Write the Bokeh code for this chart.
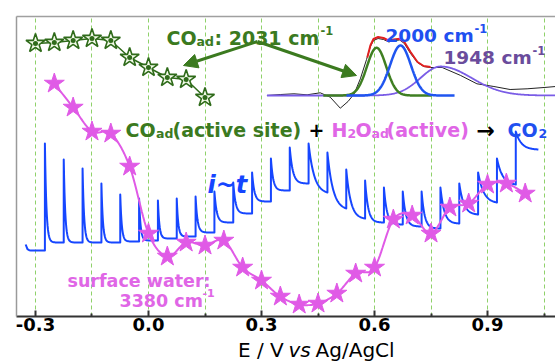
import numpy as np
from bokeh.plotting import figure
from bokeh.layouts import column
from bokeh.models import (Range1d, FixedTicker, LinearAxis, Label, Arrow, NormalHead)
from bokeh.core.properties import value
from bokeh.embed import file_html
from bokeh.resources import INLINE

# ---------------- data ----------------
co_E = [-0.30, -0.25, -0.20, -0.15, -0.10, -0.05, 0.00, 0.05, 0.10, 0.15]
co_I = [273, 274, 276, 278, 276, 259, 249, 239, 237, 219]

w_E = [-0.25, -0.20, -0.15, -0.10, -0.05, 0.00, 0.05, 0.10, 0.15, 0.20, 0.25, 0.30, 0.35,
       0.40, 0.45, 0.50, 0.55, 0.60, 0.65, 0.70, 0.75, 0.80, 0.85, 0.90, 0.95, 1.00]
w_I = [233, 209, 185, 183, 150, 83, 60, 74, 71, 76, 49, 36, 20,
       12, 13, 23, 43, 49, 97, 101, 83, 109, 113, 132, 133, 123]

it_start_E = -0.326
it_start_I = [72, 66]
it_E = [-0.275, -0.225, -0.175, -0.125, -0.075, -0.025, 0.025, 0.075, 0.125, 0.175, 0.225,
        0.275, 0.325, 0.375, 0.425, 0.475, 0.525, 0.575, 0.625, 0.675, 0.725, 0.775,
        0.825, 0.875, 0.925, 0.975]
it_stop_E = 1.035
it_peak = [173, 157, 148, 133, 122, 118, 116, 118, 120, 125, 134, 144, 158, 169, 173,
           164, 147, 136, 129, 125, 125, 129, 133, 144, 158, 185]
it_end = [74, 74, 74, 74, 75, 76, 78, 80, 84, 94, 103, 115, 126, 133, 124,
          108, 98, 94, 92, 90, 88, 93, 102, 114, 132, 167]
it_tau = [0.004, 0.004, 0.004, 0.004, 0.004, 0.004, 0.004, 0.004, 0.005, 0.006, 0.006,
          0.006, 0.006, 0.008, 0.015, 0.015, 0.012, 0.008, 0.008, 0.008, 0.008, 0.010,
          0.012, 0.015, 0.015, 0.015]

black_wn = [2173, 2155, 2138, 2121, 2104, 2091, 2078, 2068, 2060, 2052, 2044, 2039, 2035,
            2029, 2022, 2015, 2009, 2001, 1995, 1987, 1978, 1970, 1961, 1946, 1922, 1901,
            1879, 1858, 1836, 1814, 1799]
black_A = [0.00, 0.01, 0.017, 0.007, 0.027, -0.017, -0.127, -0.06, 0.017, 0.167, 0.36,
           0.49, 0.55, 0.57, 0.56, 0.535, 0.55, 0.555, 0.52, 0.42, 0.33, 0.29, 0.28, 0.28,
           0.20, 0.117, 0.09, 0.06, 0.067, 0.08, 0.09]
red_wn = [2043, 2039, 2035, 2029, 2022, 2015, 2009, 2001, 1995, 1987, 1978, 1970, 1961]
red_A = [0.38, 0.50, 0.565, 0.585, 0.575, 0.548, 0.56, 0.568, 0.535, 0.435, 0.335, 0.295, 0.285]
comp_center = [2031, 2000, 1948]
comp_height = [0.477, 0.50, 0.29]
comp_sigma_hi = [12.5, 13.5, 26]
comp_sigma_lo = [12.5, 13.5, 40]

x_ticks = [-0.3, 0.0, 0.3, 0.6, 0.9]
x_tick_labels = ["-0.3", "0.0", "0.3", "0.6", "0.9"]
x_minor = [-0.15, 0.15, 0.45, 0.75, 1.05]

# ---------------- layout helpers ----------------
W, H_MAIN, H_LAB = 555, 338, 25
X0, PXV, FL = -0.3504, 376.7, 16.0
def X(px):
    return X0 + (px - FL) / PXV
def Y(py):
    return 316.0 - py

p = figure(width=W, height=H_MAIN, title=None,
           x_range=Range1d(X0, X(W)), y_range=Range1d(0, 300),
           output_backend="svg", toolbar_location=None,
           min_border_left=16, min_border_right=0, min_border_top=16,
           min_border_bottom=H_MAIN - 316)
p.outline_line_color = None
p.background_fill_color = "white"
p.border_fill_color = "white"
wn_of = lambda px: 2000 + (400 - px) / 0.772
p.extra_x_ranges = {"wn": Range1d(wn_of(FL), wn_of(W))}
p.extra_y_ranges = {"abs": Range1d(-2.21, 0.79)}

xa = p.xaxis[0]
xa.ticker = FixedTicker(ticks=x_ticks, minor_ticks=x_minor)
xa.major_label_overrides = {t: s for t, s in zip(x_ticks, x_tick_labels)}
xa.major_label_text_font = "DejaVu Sans"
xa.major_label_text_font_style = "bold"
xa.major_label_text_font_size = "18px"
xa.major_label_text_color = "black"
xa.major_label_standoff = 1
xa.major_tick_in = 6
xa.major_tick_out = 0
xa.minor_tick_in = 3
xa.minor_tick_out = 0
xa.axis_line_width = 2
xa.axis_line_color = "#333333"
xa.major_tick_line_color = "#333333"
xa.major_tick_line_width = 2
xa.minor_tick_line_color = "#333333"
xa.minor_tick_line_width = 2

ya = p.yaxis[0]
ya.ticker = FixedTicker(ticks=[])
ya.axis_line_color = "#9a9a9a"
ya.axis_line_width = 1.5
ya.major_tick_line_color = None
ya.minor_tick_line_color = None

top_axis = LinearAxis(ticker=FixedTicker(ticks=[]), axis_line_color="#a0a0a0",
                      axis_line_width=1.5, major_tick_line_color=None, minor_tick_line_color=None)
p.add_layout(top_axis, "above")

p.ygrid.grid_line_color = None
p.xgrid.ticker = FixedTicker(ticks=sorted(x_ticks + x_minor))
p.xgrid.grid_line_color = "#8fd16a"
p.xgrid.grid_line_dash = "4 3"
p.xgrid.grid_line_width = 1

# ---------------- i~t staircase ----------------
ix = [it_start_E]
iy = [it_start_I[0]]
t0 = np.linspace(0, it_E[0] - it_start_E, 12)
dec0 = it_start_I[1] + (it_start_I[0] - it_start_I[1]) * np.exp(-t0 / 0.003)
ix += list(it_start_E + t0)
iy += list(dec0)
prev = it_start_I[1]
for k, e in enumerate(it_E):
    nxt = it_E[k + 1] if k + 1 < len(it_E) else it_stop_E
    T = nxt - e
    pk, en, tau = it_peak[k], it_end[k], it_tau[k]
    t = np.linspace(0, T, 50)
    y = en + (pk - en) * (np.exp(-t / tau) - np.exp(-T / tau)) / (1 - np.exp(-T / tau))
    ix += [e] + list(e + t)
    iy += [prev] + list(y)
    prev = en
p.line(ix, iy, line_color="#1646ff", line_width=2, line_join="round")

# ---------------- surface water ----------------
def catmull(xs, ys, n=14):
    xs = np.asarray(xs, float); ys = np.asarray(ys, float)
    ox, oy = [], []
    N = len(xs)
    for i in range(N - 1):
        i0, i3 = max(i - 1, 0), min(i + 2, N - 1)
        p0, p1, p2, p3 = [np.array([xs[j], ys[j]]) for j in (i0, i, i + 1, i3)]
        for t in np.linspace(0, 1, n, endpoint=False):
            t2, t3 = t * t, t * t * t
            pt = 0.5 * ((2 * p1) + (-p0 + p2) * t + (2 * p0 - 5 * p1 + 4 * p2 - p3) * t2
                        + (-p0 + 3 * p1 - 3 * p2 + p3) * t3)
            ox.append(pt[0]); oy.append(pt[1])
    ox.append(xs[-1]); oy.append(ys[-1])
    return ox, oy

wx, wy = catmull(w_E, w_I)
p.line(wx, wy, line_color="#e05ae6", line_width=2)
p.scatter(w_E, w_I, marker="star", size=21, fill_color="#e05ae6", line_color="#e05ae6")

# ---------------- CO_ad stars ----------------
p.line(co_E, co_I, line_color="#2f6b1a", line_width=1.5)
p.scatter(co_E, co_I, marker="star_dot", size=20, fill_color="#f3fbe9",
          line_color="#2f6b1a", line_width=1.6)

# ---------------- inset IR spectrum ----------------
wn = np.linspace(2173, wn_of(W), 500)
def comp(i, grid):
    g = np.asarray(grid, float)
    s = np.where(g >= comp_center[i], comp_sigma_hi[i], comp_sigma_lo[i])
    return comp_height[i] * np.exp(-0.5 * ((g - comp_center[i]) / s) ** 2)

p.line(black_wn, black_A, x_range_name="wn", y_range_name="abs",
       line_color="#222222", line_width=1)
p.line(wn, comp(2, wn), x_range_name="wn", y_range_name="abs",
       line_color="#7a5ce6", line_width=1.8)
g_wn = np.linspace(2100, 1960, 200)
p.line(g_wn, comp(0, g_wn), x_range_name="wn", y_range_name="abs",
       line_color="#3f7f22", line_width=2.5)
b_wn = np.linspace(2070, 1930, 200)
p.line(b_wn, comp(1, b_wn), x_range_name="wn", y_range_name="abs",
       line_color="#1f55f0", line_width=2.5)
p.line(red_wn, red_A, x_range_name="wn", y_range_name="abs",
       line_color="#e02020", line_width=2)

# ---------------- arrows ----------------
for (xe, ye) in [(183, 65), (356, 75)]:
    p.add_layout(Arrow(end=NormalHead(size=14, fill_color="#3b7a1f", line_color="#3b7a1f"),
                       x_start=X(257), y_start=Y(41), x_end=X(xe), y_end=Y(ye),
                       line_color="#3b7a1f", line_width=3))

# ---------------- texts ----------------
def lab(px, py, text, size, color, style="bold", font="DejaVu Sans"):
    p.add_layout(Label(x=X(px), y=Y(py), text=text, text_font=font,
                       text_font_size=f"{size}px", text_font_style=style,
                       text_color=color, text_baseline="alphabetic", text_align="left"))

GREEN = "#3b7a1f"
VIOL = "#e066e6"
BLUE = "#1f50f0"
PURP = "#6a4c9c"

lab(166, 37.5, "CO", 19, GREEN)
lab(196, 41, "ad", 12.5, GREEN)
lab(214, 37.5, ": 2031 cm", 19, GREEN)
lab(320, 30, "-1", 11.5, GREEN)

lab(385, 35, "2000 cm", 18.5, BLUE)
lab(474, 28, "-1", 11.5, BLUE)
lab(443, 57, "1948 cm", 18.5, PURP)
lab(532, 50, "-1", 11.5, PURP)

lab(125, 129.5, "CO", 19, GREEN)
lab(155.5, 133, "ad", 12.5, GREEN)
lab(172, 129.5, "(active site)", 19, GREEN)
lab(308, 129.5, "+", 19, "black")
lab(331, 129.5, "H", 19, VIOL)
lab(347, 133, "2", 12.5, VIOL)
lab(355, 129.5, "O", 19, VIOL)
lab(371, 133, "ad", 12.5, VIOL)
lab(386, 129.5, "(active)", 19, VIOL)
lab(476, 130, "\u2192", 22, "black")
lab(507, 129.5, "CO", 19, BLUE)
lab(538, 133, "2", 12.5, BLUE)

lab(207, 184, "i~t", 24, "#1646ff", style="bold italic")

lab(67, 280, "surface water:", 17.5, VIOL)
lab(119, 300, "3380 cm", 17.5, VIOL)
lab(202, 292, "-1", 11, VIOL)

# ---------------- x-axis title strip (mixed upright / italic) ----------------
q = figure(width=W, height=H_LAB, title=None, x_range=Range1d(0, W), y_range=Range1d(0, H_LAB),
           output_backend="svg", toolbar_location=None,
           x_axis_location=None, y_axis_location=None, min_border=0)
q.outline_line_color = None
q.grid.visible = False
q.background_fill_color = "white"
q.border_fill_color = "white"
title_parts = ["E / V", "vs", "Ag/AgCl"]
title_px = [228, 280, 308]
title_style = ["normal", "italic", "normal"]
for tx, tp, ts in zip(title_parts, title_px, title_style):
    q.text(x=[tp], y=[13.5], text=[tx], text_font=value("DejaVu Sans"),
           text_font_size=value("20px"), text_font_style=value(ts), text_color="black",
           text_baseline="alphabetic", text_align="left")

layout = column(p, q, spacing=0)
open("out.html", "w").write(file_html(layout, INLINE))
